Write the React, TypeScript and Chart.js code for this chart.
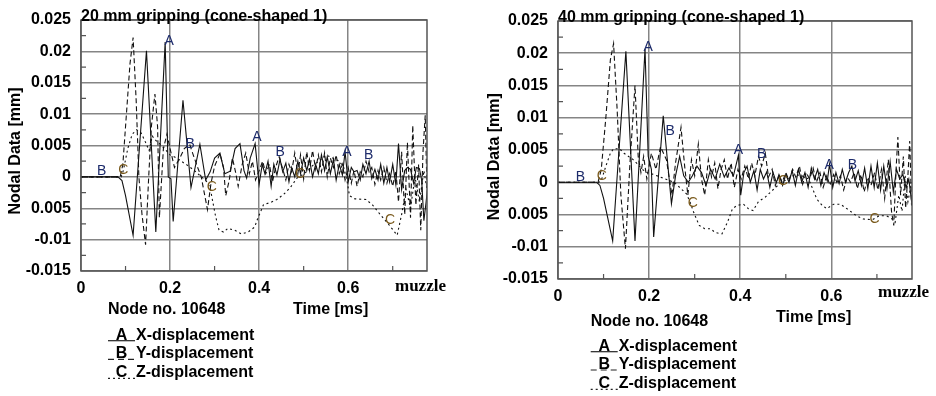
import React, { useEffect, useRef } from "react";
import { Chart, registerables } from "chart.js";

Chart.register(...registerables);

// ---------- axes ----------
const X_MAX = 0.777;
const X_TICKS = [0, 0.2, 0.4, 0.6];
const X_TICK_LABELS = ["0", "0.2", "0.4", "0.6"];
const Y_TICKS = [-0.015, -0.01, -0.005, 0, 0.005, 0.01, 0.015, 0.02, 0.025];
const Y_TICK_LABELS = ["-0.015", "-0.01", "0.005", "0", "0.005", "0.01", "0.015", "0.02", "0.025"];
const X_MINOR = [0.1, 0.3, 0.5, 0.7];
const Y_MINOR = [-0.0125, -0.0075, -0.0025, 0.0025, 0.0075, 0.0125, 0.0175, 0.0225];

const SERIES_KEYS = ["A", "B", "C"];
const SERIES_NAMES = ["X-displacement", "Y-displacement", "Z-displacement"];

// ---------- 20 mm gripping ----------
const L_A_T = [0, 0.083, 0.092, 0.1, 0.117, 0.147, 0.168, 0.189, 0.196, 0.202, 0.207, 0.229, 0.247, 0.267, 0.28, 0.29, 0.3, 0.312, 0.323, 0.335, 0.346, 0.357, 0.366, 0.372, 0.38, 0.391, 0.4, 0.407, 0.413, 0.42, 0.427, 0.433, 0.44, 0.447, 0.453, 0.46, 0.467, 0.473, 0.48, 0.487, 0.493, 0.5, 0.507, 0.513, 0.52, 0.527, 0.533, 0.54, 0.547, 0.553, 0.56, 0.567, 0.573, 0.58, 0.587, 0.593, 0.6, 0.607, 0.613, 0.62, 0.627, 0.633, 0.64, 0.647, 0.653, 0.66, 0.667, 0.673, 0.68, 0.687, 0.693, 0.7, 0.707, 0.713, 0.72, 0.727, 0.733, 0.74, 0.747, 0.753, 0.76, 0.765, 0.77, 0.775, 0.778];
const L_A_V = [0, 0, -0.0006, -0.003, -0.0093, 0.0201, -0.0088, 0.0215, 0.0, -0.0003, -0.0071, 0.0122, -0.0017, 0.0052, -0.0005, 0.0008, 0.003, 0.0038, 0.0005, 0.0009, 0.0045, 0.0053, 0.001, -0.0002, 0.003, 0.0053, -0.0012, 0.002, 0.0005, 0.0025, -0.0015, 0.002, 0.0003, 0.0028, 0.0008, 0.0022, -0.0008, 0.0015, 0.0, 0.0025, 0.0005, 0.003, 0.001, 0.0028, 0.0, 0.002, 0.0005, 0.0035, 0.001, 0.0032, 0.0005, 0.0028, -0.0005, 0.002, 0.0003, 0.004, -0.0008, 0.0015, 0.0008, 0.001, -0.0005, 0.002, 0.0005, 0.0025, -0.0003, 0.0012, -0.0005, 0.002, -0.001, 0.0015, -0.0008, 0.002, -0.0012, 0.0053, -0.002, 0.001, 0.0015, 0.0012, -0.001, 0.0015, 0.0013, -0.0005, -0.007, -0.004, -0.002];

const L_B_T = [0, 0.088, 0.094, 0.1, 0.11, 0.117, 0.124, 0.13, 0.137, 0.145, 0.152, 0.158, 0.166, 0.172, 0.176, 0.185, 0.193, 0.2, 0.21, 0.222, 0.232, 0.244, 0.252, 0.262, 0.27, 0.278, 0.284, 0.292, 0.3, 0.312, 0.32, 0.325, 0.333, 0.34, 0.347, 0.353, 0.362, 0.37, 0.378, 0.385, 0.392, 0.4, 0.408, 0.415, 0.423, 0.43, 0.437, 0.445, 0.452, 0.46, 0.467, 0.473, 0.48, 0.487, 0.493, 0.5, 0.507, 0.513, 0.52, 0.527, 0.533, 0.54, 0.547, 0.553, 0.56, 0.567, 0.573, 0.58, 0.587, 0.593, 0.6, 0.607, 0.613, 0.62, 0.627, 0.633, 0.64, 0.647, 0.653, 0.66, 0.667, 0.673, 0.68, 0.687, 0.693, 0.7, 0.707, 0.713, 0.72, 0.727, 0.733, 0.74, 0.745, 0.752, 0.758, 0.763, 0.768, 0.773, 0.777];
const L_B_V = [0, 0, 0.002, 0.008, 0.018, 0.0222, 0.012, 0.0, -0.006, -0.0108, 0.0, 0.008, 0.0132, 0.008, -0.0065, 0.0045, 0.0068, 0.0045, 0.0015, 0.003, 0.0045, 0.0052, 0.0035, 0.0015, 0.0, -0.003, -0.0052, -0.001, 0.0017, 0.0037, 0.0015, -0.003, -0.0005, 0.003, 0.0008, -0.0015, 0.002, 0.0038, 0.0005, 0.0025, -0.0005, 0.001, 0.0025, 0.0005, 0.002, -0.0008, 0.0015, 0.0032, 0.0015, -0.0005, 0.002, 0.0008, 0.0038, 0.0005, 0.0035, -0.0003, 0.004, 0.001, 0.0042, 0.0012, 0.0035, 0.0008, 0.0038, 0.0, 0.003, 0.0015, 0.0035, 0.0005, 0.002, -0.0005, 0.0015, -0.001, 0.001, -0.0015, 0.0008, 0.0, 0.0025, 0.0008, 0.0015, -0.0012, 0.001, -0.0005, 0.0015, -0.001, 0.0005, -0.0015, 0.001, -0.004, 0.004, -0.006, 0.0055, -0.0065, 0.0082, -0.0045, 0.002, -0.0085, 0.004, 0.0098, -0.002];

const L_C_T = [0, 0.09, 0.095, 0.105, 0.115, 0.125, 0.135, 0.145, 0.153, 0.16, 0.168, 0.178, 0.19, 0.2, 0.215, 0.225, 0.24, 0.255, 0.27, 0.28, 0.29, 0.296, 0.302, 0.31, 0.32, 0.33, 0.345, 0.36, 0.375, 0.39, 0.396, 0.41, 0.425, 0.44, 0.455, 0.47, 0.485, 0.5, 0.51, 0.52, 0.535, 0.55, 0.565, 0.58, 0.59, 0.597, 0.603, 0.615, 0.64, 0.655, 0.672, 0.69, 0.71, 0.72, 0.73, 0.74, 0.75, 0.76, 0.77, 0.777];
const L_C_V = [0, 0, 0.001, 0.0045, 0.0068, 0.0075, 0.007, 0.0055, 0.0042, 0.0065, 0.0058, 0.0052, 0.0043, 0.0035, 0.003, 0.0025, 0.0018, 0.001, 0.0, -0.0005, -0.0017, -0.004, -0.0062, -0.0085, -0.0088, -0.0082, -0.0085, -0.0091, -0.0088, -0.008, -0.0068, -0.0044, -0.0041, -0.0036, -0.0028, -0.0017, -0.0002, 0.0005, 0.001, 0.0018, 0.0025, 0.0035, 0.003, 0.0025, 0.0015, -0.0005, -0.003, -0.0035, -0.0036, -0.0045, -0.006, -0.0075, -0.0093, -0.006, -0.002, -0.005, 0.0, -0.004, 0.001, -0.002];

const L_LBL_TEXT = ["B", "C", "A", "B", "C", "A", "B", "C", "A", "B", "C"];
const L_LBL_T = [0.0465, 0.095, 0.198, 0.245, 0.294, 0.395, 0.447, 0.492, 0.597, 0.646, 0.694];
const L_LBL_V = [0.0009, 0.0011, 0.0216, 0.0052, -0.0016, 0.0064, 0.0039, 0.0004, 0.004, 0.0034, -0.0069];

// ---------- 40 mm gripping ----------
const R_A_T = [0, 0.085, 0.092, 0.1, 0.12, 0.149, 0.169, 0.191, 0.198, 0.205, 0.21, 0.231, 0.249, 0.258, 0.267, 0.276, 0.286, 0.295, 0.305, 0.315, 0.325, 0.335, 0.345, 0.355, 0.365, 0.375, 0.385, 0.396, 0.401, 0.408, 0.415, 0.422, 0.43, 0.437, 0.444, 0.451, 0.458, 0.465, 0.472, 0.479, 0.486, 0.493, 0.5, 0.507, 0.514, 0.521, 0.528, 0.535, 0.542, 0.549, 0.556, 0.563, 0.57, 0.577, 0.584, 0.591, 0.596, 0.603, 0.61, 0.617, 0.624, 0.631, 0.638, 0.645, 0.652, 0.659, 0.666, 0.673, 0.68, 0.687, 0.694, 0.701, 0.708, 0.715, 0.722, 0.729, 0.736, 0.743, 0.75, 0.757, 0.764, 0.77, 0.777];
const R_A_V = [0, 0, -0.0005, -0.0025, -0.0091, 0.0203, -0.0091, 0.0207, 0.004, 0.002, -0.0085, 0.0103, -0.0033, 0.001, 0.004, 0.001, 0.0, 0.001, 0.0025, 0.0015, -0.0005, 0.002, 0.0005, 0.0028, 0.0008, 0.0022, 0.001, 0.0042, -0.002, 0.0015, 0.0025, 0.0, 0.0018, -0.0012, 0.002, 0.0005, 0.0016, -0.0008, 0.0015, 0.0, 0.001, -0.0005, 0.0012, 0.0, 0.0018, -0.0005, 0.002, 0.0, 0.0015, -0.0008, 0.0022, 0.0005, 0.002, -0.0005, 0.0015, 0.0002, 0.0028, -0.0008, 0.0015, -0.0002, 0.002, 0.0, 0.0015, 0.0025, 0.0002, 0.0018, -0.0005, 0.0022, -0.001, 0.0025, -0.0008, 0.003, -0.0012, 0.0025, -0.001, 0.0032, -0.0015, 0.002, 0.0005, 0.0012, -0.0008, 0.0005, -0.0035];

const R_B_T = [0, 0.088, 0.095, 0.105, 0.115, 0.122, 0.13, 0.138, 0.148, 0.158, 0.169, 0.176, 0.182, 0.188, 0.195, 0.205, 0.215, 0.225, 0.238, 0.25, 0.258, 0.27, 0.278, 0.285, 0.293, 0.3, 0.308, 0.315, 0.322, 0.33, 0.337, 0.344, 0.351, 0.358, 0.365, 0.372, 0.38, 0.387, 0.395, 0.402, 0.41, 0.418, 0.425, 0.432, 0.44, 0.447, 0.455, 0.462, 0.47, 0.477, 0.485, 0.492, 0.5, 0.507, 0.515, 0.522, 0.53, 0.537, 0.545, 0.552, 0.56, 0.567, 0.575, 0.582, 0.59, 0.597, 0.605, 0.612, 0.62, 0.627, 0.635, 0.642, 0.65, 0.657, 0.665, 0.672, 0.68, 0.687, 0.695, 0.702, 0.71, 0.717, 0.725, 0.732, 0.737, 0.742, 0.746, 0.752, 0.758, 0.763, 0.768, 0.772, 0.776];
const R_B_V = [0, 0, 0.002, 0.01, 0.019, 0.0215, 0.011, -0.002, -0.0103, 0.003, 0.015, 0.004, 0.0015, 0.004, 0.0005, 0.0045, 0.002, 0.0055, 0.0035, -0.002, 0.003, 0.0085, 0.0025, -0.002, 0.0035, 0.001, 0.0059, 0.0005, -0.002, 0.0035, 0.0008, 0.003, -0.001, 0.002, 0.0035, 0.0005, 0.003, -0.0008, 0.002, 0.0005, 0.0025, 0.0005, 0.003, 0.001, 0.004, 0.0025, 0.0045, 0.0008, 0.002, -0.0005, 0.0012, 0.0, 0.0015, 0.0003, 0.002, 0.0008, 0.0025, -0.0003, 0.0015, 0.0005, 0.0022, 0.0, 0.0015, -0.0008, 0.001, -0.0005, 0.0012, 0.0, 0.001, -0.0012, 0.0008, 0.0, 0.0015, -0.001, 0.0012, -0.0015, 0.0008, -0.0005, 0.0015, -0.0012, 0.002, -0.0025, 0.0035, -0.0045, -0.0067, 0.002, 0.007, -0.002, 0.004, -0.004, 0.001, 0.0064, -0.0036];

const R_C_T = [0, 0.09, 0.096, 0.105, 0.115, 0.122, 0.135, 0.145, 0.155, 0.165, 0.175, 0.185, 0.195, 0.21, 0.225, 0.24, 0.255, 0.27, 0.282, 0.29, 0.298, 0.31, 0.322, 0.335, 0.345, 0.36, 0.372, 0.383, 0.393, 0.407, 0.418, 0.428, 0.44, 0.455, 0.47, 0.49, 0.505, 0.52, 0.535, 0.55, 0.56, 0.568, 0.58, 0.59, 0.605, 0.62, 0.64, 0.655, 0.67, 0.69, 0.705, 0.72, 0.73, 0.74, 0.748, 0.755, 0.762, 0.768, 0.776];
const R_C_V = [0, 0, 0.0005, 0.0025, 0.0045, 0.0052, 0.0052, 0.0045, 0.004, 0.0035, 0.0028, 0.002, 0.0015, 0.0012, 0.0008, 0.0004, 0.0, -0.001, -0.0018, -0.0031, -0.0047, -0.0067, -0.0072, -0.0072, -0.0078, -0.008, -0.0062, -0.0041, -0.0036, -0.0034, -0.0041, -0.0044, -0.003, -0.0023, -0.0013, 0.0, 0.0005, 0.0012, 0.001, 0.0005, -0.0012, -0.0026, -0.0036, -0.0041, -0.0034, -0.0034, -0.0044, -0.0052, -0.0057, -0.0058, -0.0052, -0.0052, -0.0055, -0.0062, -0.002, -0.0045, 0.001, -0.003, 0.0];

const R_LBL_TEXT = ["B", "C", "A", "B", "C", "A", "B", "C", "A", "B", "C"];
const R_LBL_T = [0.049, 0.096, 0.198, 0.246, 0.296, 0.396, 0.447, 0.494, 0.595, 0.646, 0.695];
const R_LBL_V = [0.0008, 0.001, 0.0209, 0.0079, -0.0033, 0.005, 0.0044, 0.0002, 0.0027, 0.0027, -0.0057];

// ---------- styling ----------
const SANS = '"Liberation Sans", Arial, Helvetica, sans-serif';
const SERIF = '"Liberation Serif", "Times New Roman", serif';
const LINE_COLOR = "#111";
const DASHES = [[], [5, 3], [2, 3]];
const LEGEND_DASHES = [[], [6, 4], [2, 3]];

type PanelSpec = {
  left: number;
  width: number;
  yWidth: number;
  padTop: number;
  padRight: number;
  padBottom: number;
  title: string;
  titleY: number;
  yTitleX: number;
  yTitleY: number;
  muzzleX: number;
  muzzleY: number;
  nodeX: number;
  nodeY: number;
  timeX: number;
  timeY: number;
  legX: number;
  legY: number[];
  series: { t: number[]; v: number[] }[];
  lblText: string[];
  lblT: number[];
  lblV: number[];
};

const PANELS: PanelSpec[] = [
  {
    left: 0, width: 465, yWidth: 81, padTop: 20, padRight: 38, padBottom: 95,
    title: "20 mm gripping (cone-shaped 1)", titleY: 21,
    yTitleX: 16, yTitleY: 151,
    muzzleX: 395, muzzleY: 291,
    nodeX: 108, nodeY: 314, timeX: 293, timeY: 314,
    legX: 108, legY: [339.7, 358.4, 377.4],
    series: [{ t: L_A_T, v: L_A_V }, { t: L_B_T, v: L_B_V }, { t: L_C_T, v: L_C_V }],
    lblText: L_LBL_TEXT, lblT: L_LBL_T, lblV: L_LBL_V,
  },
  {
    left: 470, width: 466, yWidth: 88, padTop: 21, padRight: 24, padBottom: 87,
    title: "40 mm gripping (cone-shaped 1)", titleY: 22.3,
    yTitleX: 25, yTitleY: 156.7,
    muzzleX: 408, muzzleY: 297,
    nodeX: 120.7, nodeY: 325.7, timeX: 306, timeY: 322.4,
    legX: 120.7, legY: [350.7, 369, 388.4],
    series: [{ t: R_A_T, v: R_A_V }, { t: R_B_T, v: R_B_V }, { t: R_C_T, v: R_C_V }],
    lblText: R_LBL_TEXT, lblT: R_LBL_T, lblV: R_LBL_V,
  },
];

function labelFor(list: number[], labels: string[], value: number) {
  const i = list.findIndex((t) => Math.abs(t - value) < 1e-9);
  return i >= 0 ? labels[i] : "";
}

function makeDecor(p: PanelSpec) {
  return {
    id: "decor",
    afterDraw(chart: any) {
      const { ctx, chartArea: a, scales } = chart;
      const xs = scales.x;
      const ys = scales.y;
      ctx.save();
      // frame
      ctx.strokeStyle = "#555";
      ctx.lineWidth = 1.5;
      ctx.setLineDash([]);
      ctx.strokeRect(a.left, a.top, a.right - a.left, a.bottom - a.top);
      // minor ticks
      ctx.lineWidth = 1.2;
      ctx.beginPath();
      X_MINOR.forEach((v) => {
        const x = xs.getPixelForValue(v);
        ctx.moveTo(x, a.bottom);
        ctx.lineTo(x, a.bottom - 5);
      });
      Y_MINOR.forEach((v) => {
        const y = ys.getPixelForValue(v);
        ctx.moveTo(a.left, y);
        ctx.lineTo(a.left + 5, y);
      });
      ctx.stroke();

      // curve letters
      ctx.font = `14px ${SANS}`;
      ctx.textAlign = "center";
      ctx.textBaseline = "middle";
      p.lblText.forEach((s, i) => {
        ctx.fillStyle = s === "C" ? "#7a5a1c" : "#1d2b6b";
        ctx.fillText(s, xs.getPixelForValue(p.lblT[i]), ys.getPixelForValue(p.lblV[i]));
      });

      ctx.fillStyle = "#000";
      ctx.textBaseline = "alphabetic";
      // title
      ctx.font = `bold 16px ${SANS}`;
      ctx.textAlign = "left";
      ctx.fillText(p.title, a.left, p.titleY);
      // y title
      ctx.save();
      ctx.translate(p.yTitleX, p.yTitleY);
      ctx.rotate(-Math.PI / 2);
      ctx.textAlign = "center";
      ctx.textBaseline = "middle";
      ctx.fillText("Nodal Data [mm]", 0, 0);
      ctx.restore();
      // muzzle
      ctx.font = `bold 17px ${SERIF}`;
      ctx.textAlign = "left";
      ctx.fillText("muzzle", p.muzzleX, p.muzzleY);
      // node / time
      ctx.font = `bold 16px ${SANS}`;
      ctx.fillText("Node no. 10648", p.nodeX, p.nodeY);
      ctx.fillText("Time [ms]", p.timeX, p.timeY);
      // legend
      p.legY.forEach((y, i) => {
        ctx.strokeStyle = "#222";
        ctx.lineWidth = 1.2;
        ctx.setLineDash(LEGEND_DASHES[i]);
        ctx.beginPath();
        ctx.moveTo(p.legX, y + 1);
        ctx.lineTo(p.legX + 27, y + 1);
        ctx.stroke();
        ctx.setLineDash([]);
        ctx.textAlign = "center";
        ctx.fillText(SERIES_KEYS[i], p.legX + 13.5, y);
        ctx.textAlign = "left";
        ctx.fillText(SERIES_NAMES[i], p.legX + 28, y);
      });
      ctx.restore();
    },
  };
}

function Panel({ p }: { p: PanelSpec }) {
  const ref = useRef<HTMLCanvasElement | null>(null);
  useEffect(() => {
    if (!ref.current) return;
    const tickFont = { family: SANS, size: 16, weight: "bold" as const };
    const chart = new Chart(ref.current, {
      type: "line",
      data: {
        datasets: p.series.map((s, i) => ({
          label: SERIES_NAMES[i],
          data: s.t.map((t, j) => ({ x: t, y: s.v[j] })),
          borderColor: LINE_COLOR,
          borderWidth: 1.1,
          borderDash: DASHES[i],
          pointRadius: 0,
          fill: false,
          tension: 0,
        })),
      },
      options: {
        responsive: false,
        animation: false,
        events: [],
        layout: { padding: { left: 0, top: p.padTop, right: p.padRight, bottom: p.padBottom } },
        plugins: { legend: { display: false }, tooltip: { enabled: false }, title: { display: false } },
        scales: {
          x: {
            type: "linear",
            min: 0,
            max: X_MAX,
            afterBuildTicks: (s: any) => {
              s.ticks = X_TICKS.map((v) => ({ value: v }));
            },
            afterFit: (s: any) => {
              s.height = 30;
            },
            grid: { color: "#858585", lineWidth: 1.5, drawTicks: false, tickLength: 0 },
            border: { display: false },
            ticks: {
              padding: 8,
              color: "#000",
              font: tickFont,
              autoSkip: false,
              maxRotation: 0,
              callback: (v: any) => labelFor(X_TICKS, X_TICK_LABELS, Number(v)),
            },
          },
          y: {
            type: "linear",
            min: -0.015,
            max: 0.025,
            afterBuildTicks: (s: any) => {
              s.ticks = Y_TICKS.map((v) => ({ value: v }));
            },
            afterFit: (s: any) => {
              s.width = p.yWidth;
            },
            grid: { color: "#858585", lineWidth: 1.5, drawTicks: false, tickLength: 0 },
            border: { display: false },
            ticks: {
              padding: 10,
              color: "#000",
              font: tickFont,
              autoSkip: false,
              callback: (v: any) => labelFor(Y_TICKS, Y_TICK_LABELS, Number(v)),
            },
          },
        },
      },
      plugins: [makeDecor(p)],
    } as any);
    return () => chart.destroy();
  }, [p]);
  return (
    <canvas
      ref={ref}
      width={p.width}
      height={396}
      style={{ position: "absolute", left: p.left, top: 0, width: p.width, height: 396 }}
    />
  );
}

export default function App() {
  return (
    <div
      style={{
        position: "fixed",
        left: 0,
        top: 0,
        width: 936,
        height: 396,
        background: "#fff",
        overflow: "hidden",
      }}
    >
      {PANELS.map((p, i) => (
        <Panel key={i} p={p} />
      ))}
    </div>
  );
}
